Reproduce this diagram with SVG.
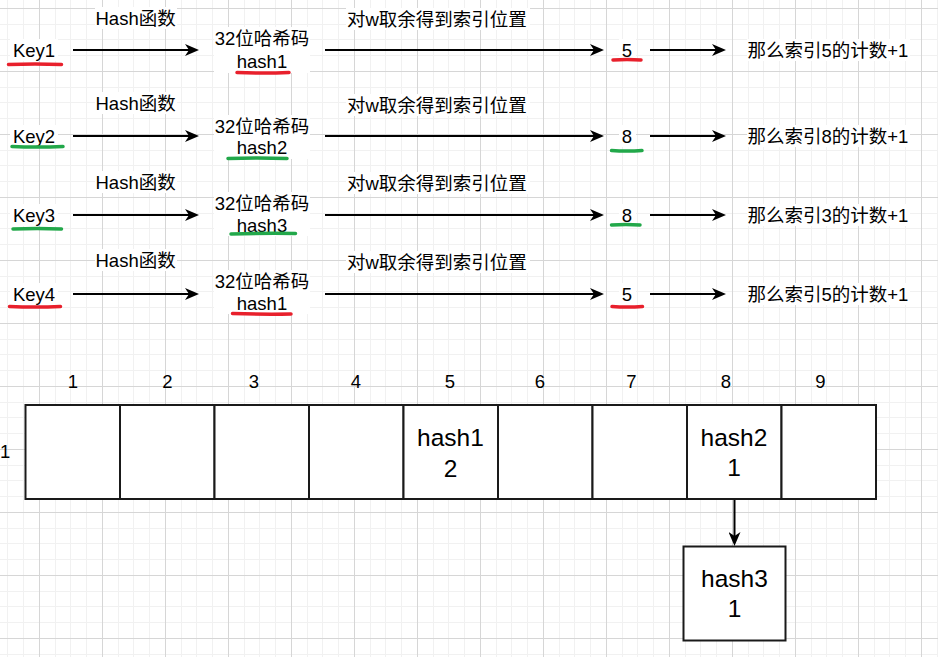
<svg xmlns="http://www.w3.org/2000/svg" width="938" height="657" viewBox="0 0 938 657">
<style>
text{font-family:"Liberation Sans","Noto Sans CJK SC",sans-serif;fill:#000;dominant-baseline:central}
.t{font-size:18.5px}
.c{text-anchor:middle}
.big{font-size:24.5px;text-anchor:middle}
.lb{fill:#fff}
.ar{stroke:#000;stroke-width:2;fill:none;marker-end:url(#ah)}
.red{stroke:#e8202c;stroke-width:3.5;stroke-linecap:round;fill:none}
.grn{stroke:#22a84a;stroke-width:3.5;stroke-linecap:round;fill:none}
.cell{fill:#fff;stroke:#1a1a1a;stroke-width:2}
</style>
<defs>
<pattern id="grid" x="39" y="8" width="63" height="63" patternUnits="userSpaceOnUse">
<rect x="16" y="0" width="1" height="63" fill="#f1f1f1"/>
<rect x="31" y="0" width="1" height="63" fill="#f1f1f1"/>
<rect x="47" y="0" width="1" height="63" fill="#f1f1f1"/>
<rect x="0" y="16" width="63" height="1" fill="#f1f1f1"/>
<rect x="0" y="31" width="63" height="1" fill="#f1f1f1"/>
<rect x="0" y="47" width="63" height="1" fill="#f1f1f1"/>
<rect x="0" y="0" width="1" height="63" fill="#d6d6d6"/>
<rect x="0" y="0" width="63" height="1" fill="#d6d6d6"/>
</pattern>
<marker id="ah" viewBox="0 0 14 12" refX="10" refY="6" markerWidth="14" markerHeight="12" markerUnits="userSpaceOnUse" orient="auto">
<path d="M0,0 L14,6 L0,12 L4,6 Z" fill="#000"/>
</marker>
</defs>
<rect width="938" height="657" fill="#fff"/>
<rect width="938" height="657" fill="url(#grid)"/>

<!-- row 1 -->
<g id="key1"><rect class="lb" x="10" y="39" width="48" height="22"/><text class="t c" x="34" y="50">Key1</text><path class="red" d="M8.5,64.5 Q35,63.5 61.5,64.5"/></g>
<g id="hashcode1"><rect class="lb" x="214" y="27" width="96" height="46"/><text class="t c" x="262" y="38">32位哈希码</text><text class="t c" x="262" y="61">hash1</text><path class="red" d="M237,72.5 Q263,73.5 289,72.5"/></g>
<g id="index1"><rect class="lb" x="619" y="39" width="17" height="22"/><text class="t c" x="627" y="50">5</text><path class="red" d="M613,60 Q627,59 641,60"/></g>
<g id="result1"><rect class="lb" x="747" y="39" width="163" height="22"/><text class="t" x="747.5" y="50">那么索引5的计数+1</text></g>

<!-- row 2 -->
<g id="key2"><rect class="lb" x="10" y="125" width="48" height="22"/><text class="t c" x="34" y="136">Key2</text><path class="grn" d="M12,146.5 Q37,147.5 63,146.5"/></g>
<g id="hashcode2"><rect class="lb" x="214" y="115" width="96" height="44"/><text class="t c" x="262" y="126.5">32位哈希码</text><text class="t c" x="262" y="147">hash2</text><path class="grn" d="M228,158.5 Q257,157.5 287,158.5"/></g>
<g id="index2"><rect class="lb" x="619" y="125" width="17" height="22"/><text class="t c" x="627" y="136">8</text><path class="grn" d="M611.5,150.5 Q627,151.5 642,150.5"/></g>
<g id="result2"><rect class="lb" x="747" y="125" width="163" height="22"/><text class="t" x="747.5" y="136">那么索引8的计数+1</text></g>

<!-- row 3 -->
<g id="key3"><rect class="lb" x="10" y="204" width="48" height="22"/><text class="t c" x="34" y="215">Key3</text><path class="grn" d="M13,229 Q37,228 61.5,229"/></g>
<g id="hashcode3"><rect class="lb" x="214" y="192" width="96" height="44"/><text class="t c" x="262" y="203.5">32位哈希码</text><text class="t c" x="262" y="225">hash3</text><path class="grn" d="M231,234 Q263,233 295.5,233.5"/></g>
<g id="index3"><rect class="lb" x="619" y="204" width="17" height="22"/><text class="t c" x="627" y="215">8</text><path class="grn" d="M611.5,225 Q626,224 640,225"/></g>
<g id="result3"><rect class="lb" x="747" y="204" width="163" height="22"/><text class="t" x="747.5" y="215">那么索引3的计数+1</text></g>

<!-- row 4 -->
<g id="key4"><rect class="lb" x="10" y="283" width="48" height="22"/><text class="t c" x="34" y="294">Key4</text><path class="red" d="M9.5,306.5 Q35,307.5 60.5,306.5"/></g>
<g id="hashcode4"><rect class="lb" x="214" y="270" width="96" height="44"/><text class="t c" x="262" y="281.5">32位哈希码</text><text class="t c" x="262" y="303.5">hash1</text><path class="red" d="M232.5,313.5 Q262,314.5 291,314"/></g>
<g id="index4"><rect class="lb" x="619" y="283" width="17" height="22"/><text class="t c" x="627" y="294">5</text><path class="red" d="M612,306.5 Q627,307.5 642.5,306.5"/></g>
<g id="result4"><rect class="lb" x="747" y="283" width="163" height="22"/><text class="t" x="747.5" y="294">那么索引5的计数+1</text></g>

<!-- table -->
<g id="table">
<rect class="cell" x="25.5" y="405" width="94.5" height="94"/>
<rect class="cell" x="120" y="405" width="94.5" height="94"/>
<rect class="cell" x="214.5" y="405" width="94.5" height="94"/>
<rect class="cell" x="309" y="405" width="94.5" height="94"/>
<rect class="cell" x="403.5" y="405" width="94.5" height="94"/>
<rect class="cell" x="498" y="405" width="94.5" height="94"/>
<rect class="cell" x="592.5" y="405" width="94.5" height="94"/>
<rect class="cell" x="687" y="405" width="94.5" height="94"/>
<rect class="cell" x="781.5" y="405" width="94.5" height="94"/>
<text class="big" x="450.5" y="437">hash1</text>
<text class="big" x="450.5" y="468">2</text>
<text class="big" x="734" y="437.5">hash2</text>
<text class="big" x="734" y="467">1</text>
</g>
<g id="table-labels">
<text class="t" x="0" y="451">1</text>
<text class="t c" x="73" y="381">1</text>
<text class="t c" x="167.5" y="381">2</text>
<text class="t c" x="254" y="381">3</text>
<text class="t c" x="356" y="381">4</text>
<text class="t c" x="450" y="381">5</text>
<text class="t c" x="540" y="381">6</text>
<text class="t c" x="631.5" y="381">7</text>
<text class="t c" x="726" y="381">8</text>
<text class="t c" x="820.5" y="381">9</text>
</g>
<g id="hash3box">
<rect class="cell" x="683.5" y="546.5" width="102" height="94"/>
<text class="big" x="734.5" y="578.5">hash3</text>
<text class="big" x="734.5" y="608.5">1</text>
</g>

<!-- connectors -->
<g id="connectors">
<line class="ar" x1="73" y1="50" x2="195" y2="50"/>
<line class="ar" x1="325" y1="50" x2="600" y2="50"/>
<line class="ar" x1="650" y1="50" x2="722" y2="50"/>
<line class="ar" x1="73" y1="136" x2="195" y2="136"/>
<line class="ar" x1="325" y1="136" x2="600" y2="136"/>
<line class="ar" x1="650" y1="136" x2="722" y2="136"/>
<line class="ar" x1="73" y1="215" x2="195" y2="215"/>
<line class="ar" x1="325" y1="215" x2="600" y2="215"/>
<line class="ar" x1="650" y1="215" x2="722" y2="215"/>
<line class="ar" x1="73" y1="294" x2="195" y2="294"/>
<line class="ar" x1="325" y1="294" x2="600" y2="294"/>
<line class="ar" x1="650" y1="294" x2="722" y2="294"/>
<line class="ar" x1="734.5" y1="500" x2="734.5" y2="542"/>
<g id="edge-labels">
<rect class="lb" x="95" y="7" width="82" height="22"/><text class="t" x="95.5" y="18">Hash函数</text>
<rect class="lb" x="95" y="92" width="82" height="22"/><text class="t" x="95.5" y="103.5">Hash函数</text>
<rect class="lb" x="95" y="171" width="82" height="22"/><text class="t" x="95.5" y="182">Hash函数</text>
<rect class="lb" x="95" y="249" width="82" height="22"/><text class="t" x="95.5" y="260">Hash函数</text>
<rect class="lb" x="346" y="8" width="184" height="22"/><text class="t" x="347" y="19">对w取余得到索引位置</text>
<rect class="lb" x="346" y="94" width="184" height="22"/><text class="t" x="347" y="105">对w取余得到索引位置</text>
<rect class="lb" x="346" y="172" width="184" height="22"/><text class="t" x="347" y="183">对w取余得到索引位置</text>
<rect class="lb" x="346" y="251" width="184" height="22"/><text class="t" x="347" y="262">对w取余得到索引位置</text>
</g>
</g>
</svg>
